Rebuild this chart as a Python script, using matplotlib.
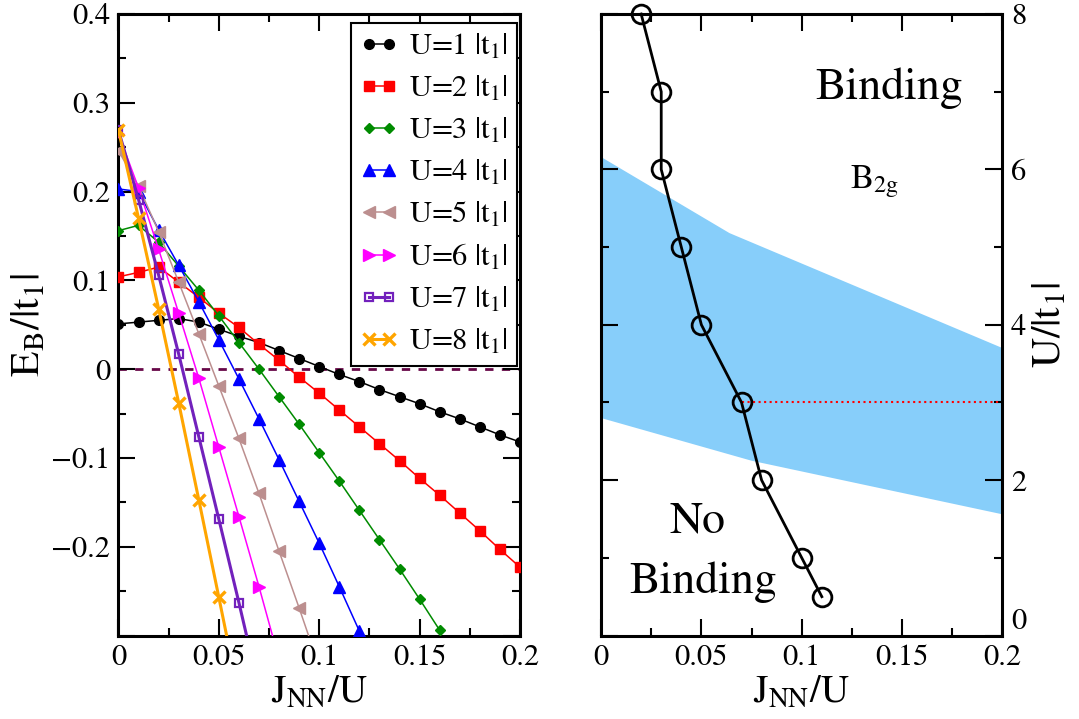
import matplotlib
matplotlib.use("Agg")
import matplotlib.pyplot as plt
import numpy as np
from matplotlib.ticker import MultipleLocator

plt.rcParams["font.family"] = ["STIXGeneral", "DejaVu Sans"]
plt.rcParams["mathtext.fontset"] = "stix"

# binding energy E_B/|t1| vs J_NN/U, one series per U (grid step 0.01)
j_grid = [0.00, 0.01, 0.02, 0.03, 0.04, 0.05, 0.06, 0.07, 0.08, 0.09, 0.10,
          0.11, 0.12, 0.13, 0.14, 0.15, 0.16, 0.17, 0.18, 0.19, 0.20]
eb_u1 = [0.051, 0.053, 0.055, 0.057, 0.053, 0.045, 0.037, 0.030, 0.021, 0.012, 0.003,
         -0.006, -0.014, -0.023, -0.031, -0.039, -0.048, -0.056, -0.065, -0.074, -0.082]
eb_u2 = [0.104, 0.109, 0.115, 0.098, 0.081, 0.063, 0.047, 0.028, 0.010, -0.009, -0.027,
         -0.046, -0.065, -0.084, -0.103, -0.123, -0.142, -0.162, -0.182, -0.203, -0.223]
eb_u3 = [0.156, 0.162, 0.143, 0.116, 0.089, 0.060, 0.030, 0.000, -0.031, -0.062, -0.094,
         -0.126, -0.159, -0.192, -0.225, -0.259, -0.294]
eb_u4 = [0.203, 0.200, 0.157, 0.117, 0.076, 0.033, -0.011, -0.056, -0.102, -0.149, -0.196,
         -0.245, -0.295]
eb_u5 = [0.246, 0.206, 0.155, 0.098, 0.040, -0.019, -0.078, -0.140, -0.205, -0.269, -0.335]
eb_u6 = [0.265, 0.204, 0.135, 0.063, -0.010, -0.088, -0.166, -0.245, -0.327]
eb_u7 = [0.269, 0.191, 0.106, 0.017, -0.076, -0.169, -0.263, -0.360]
eb_u8 = [0.269, 0.170, 0.068, -0.038, -0.147, -0.257, -0.368]

u_values = [1, 2, 3, 4, 5, 6, 7, 8]

# phase boundary U/|t1| vs J_NN/U
crit_j = [0.02, 0.03, 0.03, 0.04, 0.05, 0.07, 0.08, 0.10, 0.11]
crit_u = [8, 7, 6, 5, 4, 3, 2, 1, 0.5]

# shaded B2g region edges
band_top_j = [0.0, 0.064, 0.2]
band_top_u = [6.16, 5.18, 3.70]
band_bot_j = [0.0, 0.075, 0.2]
band_bot_u = [2.80, 2.25, 1.56]

styles = [
    dict(color="black", marker="o", ms=7.0, lw=1.1),
    dict(color="#ff0000", marker="s", ms=6.8, lw=1.1),
    dict(color="#008b00", marker="D", ms=5.2, lw=1.1),
    dict(color="#0000ff", marker="^", ms=8.0, lw=1.1),
    dict(color="#bc8f8f", marker="<", ms=8.0, lw=1.1),
    dict(color="#ff00ff", marker=">", ms=8.0, lw=1.1),
    dict(color="#7221bc", marker="s", ms=6.2, lw=2.2, mfc="none", mew=1.6),
    dict(color="#ffa500", marker="x", ms=8.0, lw=2.2, mew=2.4),
]

fig = plt.figure(figsize=(10.79, 7.19), dpi=100)
ax1 = fig.add_axes([0.1098, 0.1161, 0.3721, 0.8644])
ax2 = fig.add_axes([0.5570, 0.1161, 0.3721, 0.8644])

ax1.axhline(0.0, color="#670748", lw=2.0, ls=(0, (3, 3)), zorder=1)
series = [eb_u1, eb_u2, eb_u3, eb_u4, eb_u5, eb_u6, eb_u7, eb_u8]
for u, eb, st in zip(u_values, series, styles):
    ax1.plot(j_grid[:len(eb)], eb, label=r"U=%d $|\mathrm{t}_1|$" % u, zorder=3, **st)

ax1.set_xlim(0, 0.2)
ax1.set_ylim(-0.3, 0.4)
ax1.set_xticks([0, 0.05, 0.1, 0.15, 0.2], ["0", "0.05", "0.1", "0.15", "0.2"])
ax1.set_yticks([-0.3, -0.2, -0.1, 0, 0.1, 0.2, 0.3, 0.4],
               ["", "\u22120.2", "\u22120.1", "0", "0.1", "0.2", "0.3", "0.4"])
ax1.yaxis.set_minor_locator(MultipleLocator(0.05))
ax1.set_xlabel(r"$\mathrm{J_{NN}/U}$", fontsize=28, labelpad=2)
ax1.set_ylabel(r"$\mathrm{E_B/|t_1|}$", fontsize=30, labelpad=2)

leg = ax1.legend(loc="upper right", bbox_to_anchor=(0.9925, 0.9855), borderaxespad=0,
                 fontsize=22, numpoints=2, handlelength=1.25, handletextpad=0.35,
                 labelspacing=0.42, borderpad=0.3, fancybox=False, framealpha=1)
leg.get_frame().set_edgecolor("black")
leg.get_frame().set_linewidth(1.5)

# right panel: binding diagram
poly_j = band_top_j + band_bot_j[::-1]
poly_u = band_top_u + band_bot_u[::-1]
ax2.fill(poly_j, poly_u, color="#87cefa", lw=0, zorder=1)
ax2.plot([crit_j[5], 0.2], [crit_u[5], crit_u[5]], color="red", lw=1.5, ls=":", zorder=2)
ax2.plot(crit_j, crit_u, color="black", lw=2.0, marker="o", ms=13.5, mfc="none",
         mew=2.0, zorder=3, clip_on=False)

ax2.text(0.1436, 6.91, "Binding", fontsize=33, ha="center", va="baseline")
ax2.text(0.124, 5.76, r"$\mathrm{B_{2g}}$", fontsize=25, ha="left", va="baseline")
ax2.text(0.048, 1.32, "No", fontsize=33, ha="center", va="baseline")
ax2.text(0.051, 0.55, "Binding", fontsize=33, ha="center", va="baseline")

ax2.set_xlim(0, 0.2)
ax2.set_ylim(0, 8)
ax2.set_xticks([0, 0.05, 0.1, 0.15, 0.2], ["0", "0.05", "0.1", "0.15", "0.2"])
ax2.set_yticks([0, 2, 4, 6, 8], ["0", "2", "4", "6", "8"])
ax2.yaxis.set_minor_locator(MultipleLocator(1))
ax2.yaxis.tick_right()
ax2.yaxis.set_label_position("right")
ax2.set_xlabel(r"$\mathrm{J_{NN}/U}$", fontsize=28, labelpad=2)
ax2.set_ylabel(r"$\mathrm{U/|t_1|}$", fontsize=30, labelpad=4)

for ax in (ax1, ax2):
    ax.xaxis.set_minor_locator(MultipleLocator(0.025))
    ax.tick_params(which="both", direction="in", top=True, bottom=True,
                   left=True, right=True, width=1.5, labelsize=22)
    ax.tick_params(which="major", length=12, pad=6)
    ax.tick_params(which="minor", length=6)
    for sp in ax.spines.values():
        sp.set_linewidth(2.2)

# lift the bottom label on the right axis clear of the x tick labels
ax2.get_yticklabels()[0].set_verticalalignment("bottom")

fig.savefig("out.png", dpi=100)
